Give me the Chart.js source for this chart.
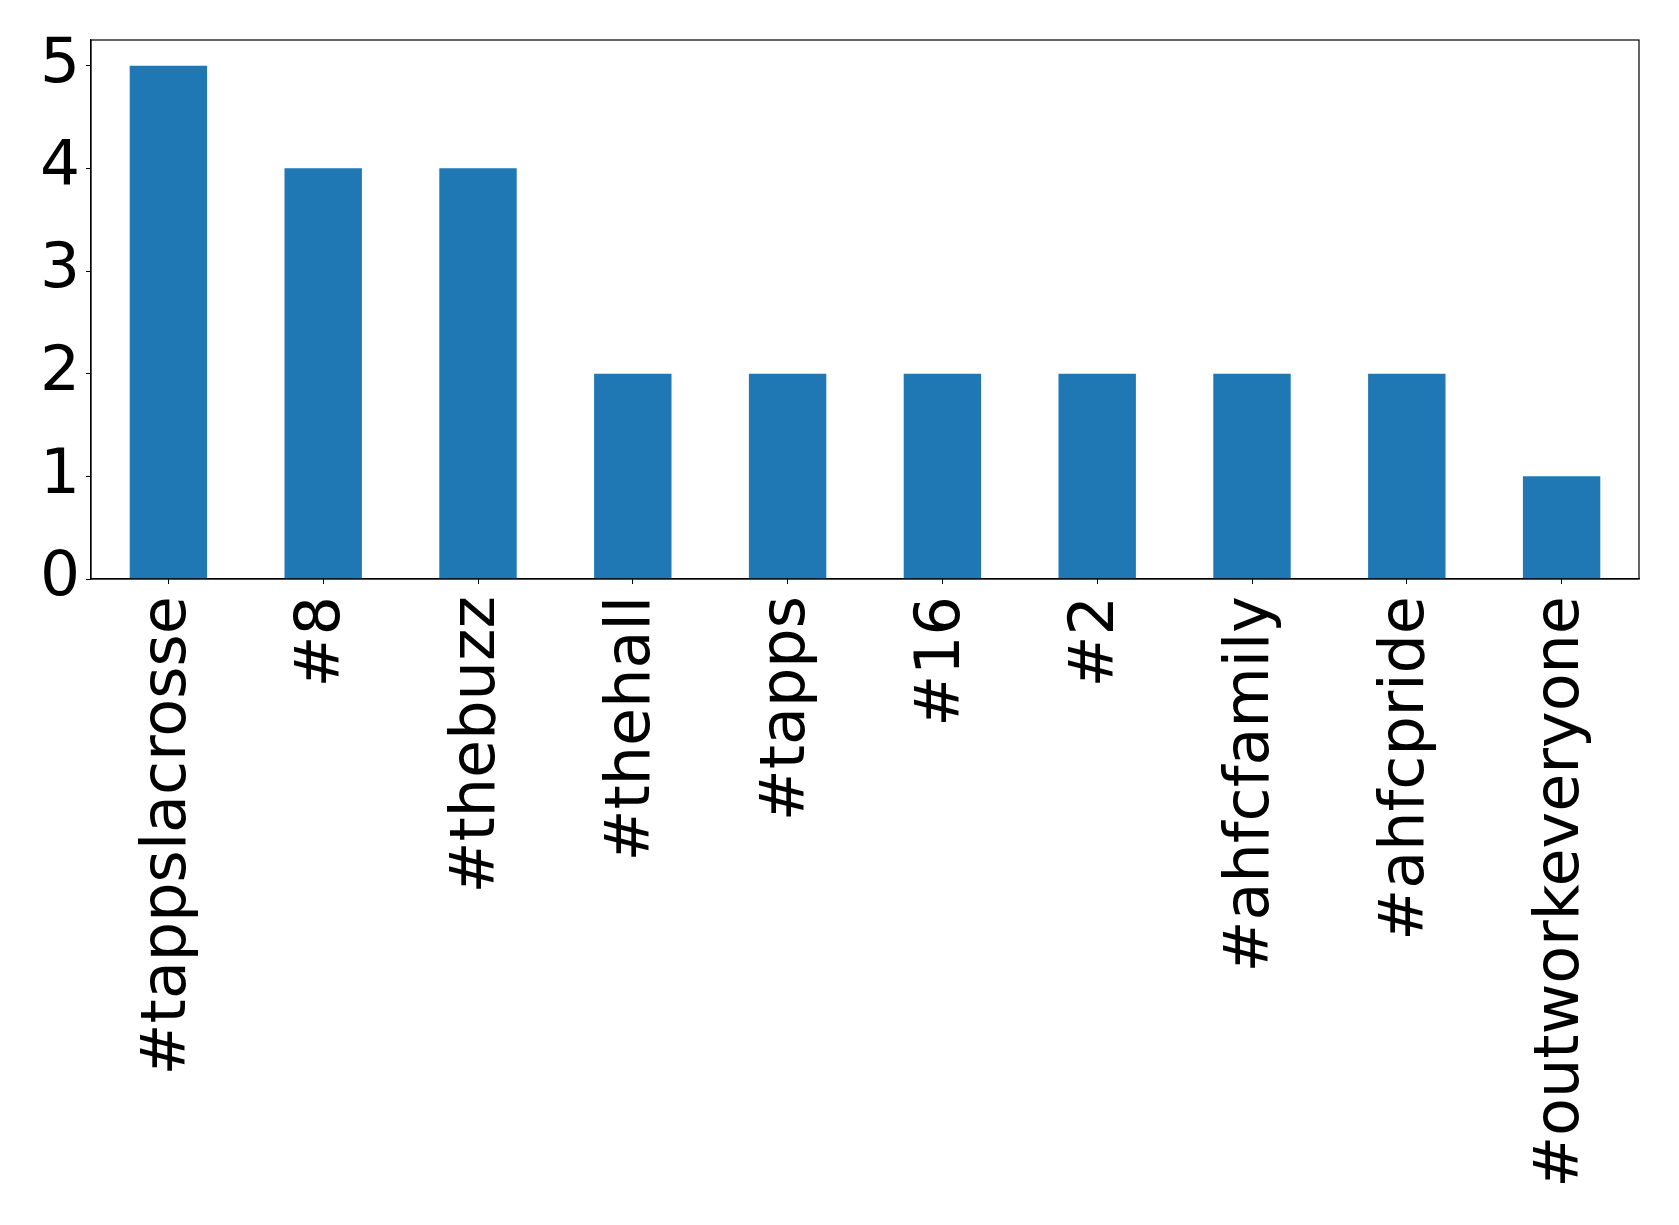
<!DOCTYPE html>
<html>
<head>
<meta charset="utf-8">
<script src="https://cdn.jsdelivr.net/npm/chart.js@4/dist/chart.umd.min.js"></script>
<style>
  html, body { margin: 0; padding: 0; background: #fff; }
  #wrap { width: 1679px; height: 1225px; }
</style>
</head>
<body>
<div id="wrap"><canvas id="c" width="1679" height="1225"></canvas></div>
<script>
const categories = ["#tappslacrosse", "#8", "#thebuzz", "#thehall", "#tapps", "#16", "#2", "#ahfcfamily", "#ahfcpride", "#outworkeveryone"];
const counts = [5, 4, 4, 2, 2, 2, 2, 2, 2, 1];
const yTicks = [0, 1, 2, 3, 4, 5];
const yMax = 5.25;

const frame = {
  id: 'frame',
  afterDraw(chart) {
    const a = chart.chartArea, ctx = chart.ctx;
    ctx.save();
    ctx.strokeStyle = '#000';
    ctx.lineWidth = 1.2;
    ctx.strokeRect(a.left, a.top, a.right - a.left, a.bottom - a.top);
    ctx.restore();
  }
};

new Chart(document.getElementById('c'), {
  type: 'bar',
  data: {
    labels: categories,
    datasets: [{ data: counts, backgroundColor: '#1f77b4', borderWidth: 0,
      barPercentage: 0.5, categoryPercentage: 1.0 }]
  },
  options: {
    responsive: false,
    animation: false,
    devicePixelRatio: 1,
    layout: { padding: { left: 0, top: 40, right: 40, bottom: 0 } },
    plugins: { legend: { display: false }, tooltip: { enabled: false } },
    scales: {
      x: {
        offset: true,
        grid: { display: true, drawOnChartArea: false, drawTicks: true, tickLength: 5, color: '#000', offset: false },
        border: { display: true, color: '#000', width: 1.2 },
        ticks: { color: '#000', font: { family: 'DejaVu Sans', size: 62 }, minRotation: 90, maxRotation: 90, autoSkip: false, padding: 12 },
        afterFit(s) { s.height = 1225 - 579; s.paddingLeft = 0; s.paddingRight = 0; }
      },
      y: {
        min: 0, max: yMax,
        grid: { display: true, drawOnChartArea: false, drawTicks: true, tickLength: 5, color: '#000' },
        border: { display: true, color: '#000', width: 1.2 },
        ticks: { color: '#000', font: { family: 'DejaVu Sans', size: 63 }, padding: 6 },
        afterBuildTicks(s) { s.ticks = yTicks.map(v => ({ value: v })); },
        afterFit(s) { s.width = 91; s.paddingTop = 0; s.paddingBottom = 0; }
      }
    }
  },
  plugins: [frame]
});
</script>
</body>
</html>
